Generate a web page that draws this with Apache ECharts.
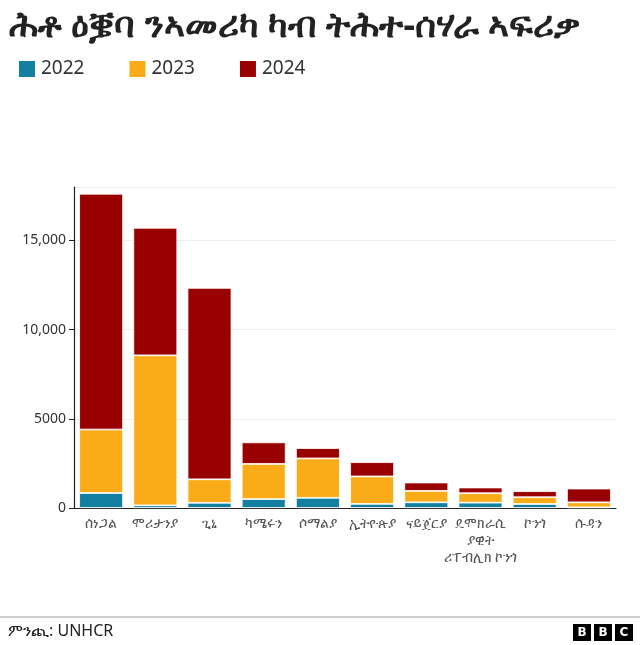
<!DOCTYPE html>
<html>
<head>
<meta charset="utf-8">
<script src="https://cdn.jsdelivr.net/npm/echarts@6/dist/echarts.min.js"></script>
<style>
  html, body { margin: 0; padding: 0; background: #fff; }
  #chart { width: 640px; height: 645px; }
</style>
</head>
<body>
<div id="chart"></div>
<script>
// ሃገራት (categories)
const countries = [
  "ሰነጋል", "ሞሪታንያ", "ጊኒ", "ካሜሩን", "ሶማልያ",
  "ኢትዮጵያ", "ናይጀርያ", "ዴሞክራሲ\nያዊት\nሪፐብሊክ ኮንጎ", "ኮንጎ", "ሱዳን"
];
// values per year
const y2022 = [840, 150, 290, 500, 570, 230, 320, 300, 225, 40];
const y2023 = [3560, 8410, 1320, 1970, 2210, 1540, 640, 530, 380, 280];
const y2024 = [13220, 7150, 10730, 1210, 580, 800, 470, 320, 340, 770];
const years = ["2022", "2023", "2024"];
const colors = ["#1380A1", "#FAAB18", "#990000"];

const font = "'Noto Sans', 'DejaVu Sans', sans-serif";

const chart = echarts.init(document.getElementById("chart"), null, { renderer: "canvas" });

const makeSeries = (name, data, color) => ({
  name: name,
  type: "bar",
  stack: "total",
  data: data,
  barWidth: "81%",
  itemStyle: { color: color, borderColor: "#fff", borderWidth: 0.8 }
});

chart.setOption({
  animation: false,
  textStyle: { fontFamily: font },
  title: {
    text: "ሕቶ ዕቜባ ንኣመሪካ ካብ ትሕተ-ሰሃራ ኣፍሪቃ",
    left: 4,
    top: 4,
    textStyle: { fontSize: 36, fontWeight: "bold", color: "#222", fontFamily: font }
  },
  legend: {
    left: 12,
    top: 54,
    itemWidth: 18,
    itemHeight: 18,
    itemGap: 43,
    icon: "rect",
    textStyle: { fontSize: 19, color: "#333", fontFamily: font },
    data: years
  },
  grid: { left: 74, right: 24, top: 187, bottom: 137 },
  xAxis: {
    type: "category",
    data: countries,
    axisLine: { lineStyle: { color: "#222", width: 1.2 } },
    axisTick: { alignWithLabel: true, length: 5, lineStyle: { color: "#222" } },
    axisLabel: { color: "#555", fontSize: 14, interval: 0, margin: 8, lineHeight: 17 }
  },
  yAxis: {
    type: "value",
    min: 0,
    max: 18000,
    interval: 5000,
    axisLine: { show: true, lineStyle: { color: "#222", width: 1.2 } },
    axisTick: { show: true, length: 5, lineStyle: { color: "#222" } },
    axisLabel: {
      color: "#333",
      fontSize: 14,
      margin: 8,
      showMaxLabel: false,
      formatter: (v) => (v >= 10000 ? v.toLocaleString("en-US") : String(v))
    },
    splitLine: { show: true, lineStyle: { color: "#eee" } }
  },
  series: [
    makeSeries(years[0], y2022, colors[0]),
    makeSeries(years[1], y2023, colors[1]),
    makeSeries(years[2], y2024, colors[2])
  ],
  graphic: [
    {
      type: "line",
      shape: { x1: 0, y1: 617, x2: 640, y2: 617 },
      style: { stroke: "#999", lineWidth: 1 }
    },
    {
      type: "text",
      left: 8,
      top: 623,
      style: { text: "ምንጪ: UNHCR", fontSize: 16, fill: "#222", fontFamily: font }
    },
    {
      type: "group",
      left: 573,
      top: 624,
      children: ["B", "B", "C"].map((ch, i) => ({
        type: "group",
        x: i * 21,
        children: [
          { type: "rect", shape: { x: 0, y: 0, width: 18, height: 17 }, style: { fill: "#000" } },
          {
            type: "text",
            x: 9, y: 9,
            style: {
              text: ch, fill: "#fff", fontSize: 12, fontWeight: "bold",
              align: "center", verticalAlign: "middle", fontFamily: "'DejaVu Sans', sans-serif"
            }
          }
        ]
      }))
    }
  ]
});
</script>
</body>
</html>
